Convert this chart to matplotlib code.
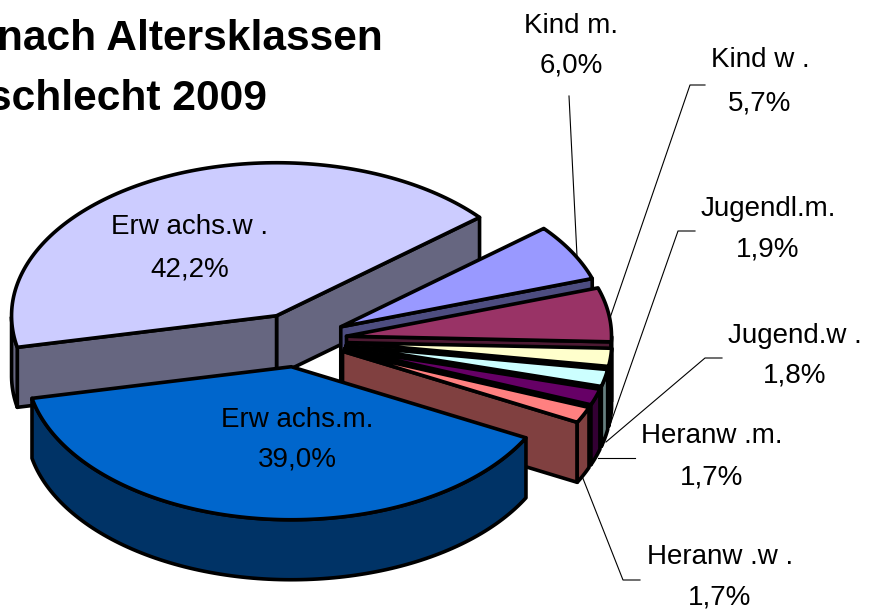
import numpy as np
import matplotlib
matplotlib.use("Agg")
import matplotlib.pyplot as plt
from matplotlib.patches import Polygon

labels = ["Kind m.", "Kind w .", "Jugendl.m.", "Jugend.w .", "Heranw .m.", "Heranw .w .", "Erw achs.m.", "Erw achs.w ."]
values = [6.0, 5.7, 1.9, 1.8, 1.7, 1.7, 39.0, 42.2]
top_colors = ["#9999FF", "#993366", "#FFFFCC", "#CCFFFF", "#660066", "#FF8080", "#0066CC", "#CCCCFF"]
side_colors = ["#4D4D80", "#4D1A33", "#808066", "#668080", "#330033", "#804040", "#003366", "#666680"]
draw_rank = [1, 2, 3, 4, 5, 6, 7, 0]

START = 40.0
CX, CY, RX, RY = 298.0, 340.0, 265.0, 153.0
EXPL_X, EXPL_Y = 49.0, 27.0
DEPTH = 60.0
EDGE = 2.6

plt.rcParams["font.family"] = ["Liberation Sans", "DejaVu Sans"]
fig = plt.figure(figsize=(8.7, 6.12), dpi=100)
ax = fig.add_axes([0, 0, 1, 1])
ax.set_xlim(0, 870)
ax.set_ylim(612, 0)
ax.axis("off")

shares = np.array(values) / sum(values) * 360
highs = START - np.concatenate([[0], np.cumsum(shares)[:-1]])
lows = highs - shares


def point(ox, oy, deg):
    t = np.radians(deg)
    return ox + RX * np.cos(t), oy - RY * np.sin(t)


def face(pts, color, z):
    ax.add_patch(Polygon(pts, closed=True, facecolor=color, edgecolor="black",
                         linewidth=EDGE, joinstyle="round", zorder=z))


for i, (hi, lo) in enumerate(zip(highs, lows)):
    mid = np.radians((hi + lo) / 2)
    ox = CX + EXPL_X * np.cos(mid)
    oy = CY - EXPL_Y * np.sin(mid)
    z = 2 + draw_rank[i] * 0.1
    apex = (ox, oy)
    if np.cos(np.radians(lo)) > 0:
        p = point(ox, oy, lo)
        face([apex, p, (p[0], p[1] + DEPTH), (ox, oy + DEPTH)], side_colors[i], z)
    if np.cos(np.radians(hi)) < 0:
        p = point(ox, oy, hi)
        face([apex, p, (p[0], p[1] + DEPTH), (ox, oy + DEPTH)], side_colors[i], z)
    angs = np.linspace(lo, hi, 120)
    vis = angs[np.sin(np.radians(angs)) < 0.0]
    if len(vis):
        rim = [point(ox, oy, a) for a in vis]
        pts = rim + [(x, y + DEPTH) for x, y in reversed(rim)]
        face(pts, side_colors[i], z)
    arc = [point(ox, oy, a) for a in angs]
    face([apex] + arc, top_colors[i], z + 0.01)

leaders = [
    [(569, 96), (577, 256)],
    [(705, 85), (690, 85), (610, 318)],
    [(695, 231), (678, 231), (610, 425)],
    [(722, 358), (705, 358), (606, 442)],
    [(635, 458), (598, 458)],
    [(640, 580), (623, 580), (582, 476)],
]
for line in leaders:
    xs, ys = zip(*line)
    ax.plot(xs, ys, color="black", lw=0.8, zorder=1.5)

percent = [f"{v:.1f}%".replace(".", ",") for v in values]
label_pos = [(571, 26, 65), (760, 60, 103), (768, 209, 250), (795, 336, 376),
             (712, 436, 477), (720, 557, 598), (297, 420, 460), (190, 227, 269)]
for name, pct, (x, y1, y2) in zip(labels, percent, label_pos):
    ax.text(x, y1, name, ha="center", va="center", fontsize=20, color="black", zorder=6)
    ax.text(x, y2, pct, ha="center", va="center", fontsize=20, color="black", zorder=6)

ax.text(-3, 39, "nach Altersklassen", fontsize=30.6, fontweight="bold", ha="left", va="center", zorder=6)
ax.text(-12, 99, "schlecht 2009", fontsize=30.6, fontweight="bold", ha="left", va="center", zorder=6)

fig.savefig("out.png", dpi=100)
